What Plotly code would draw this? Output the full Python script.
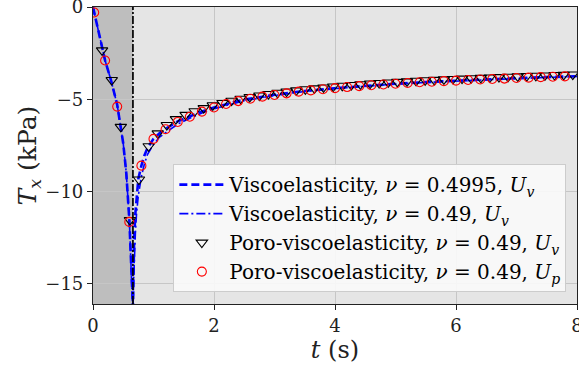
import plotly.graph_objects as go

# ---- data ----
t_line = [0, 0.1, 0.2, 0.3, 0.4, 0.5, 0.55, 0.6, 0.63, 0.65, 0.66, 0.67, 0.68, 0.7, 0.72, 0.75,
          0.8, 0.85, 0.9, 1.0, 1.1, 1.2, 1.4, 1.6, 1.8, 2.0, 2.5, 3.0, 3.5, 4.0, 4.5, 5.0,
          5.5, 6.0, 6.5, 7.0, 7.5, 8.0]
T_visco_4995 = [0, -1.4, -2.9, -4.0, -5.3, -7.4, -9.0, -11.5, -13.5, -15.5, -16.6, -14.0, -12.5,
                -11.2, -10.2, -9.3, -8.6, -8.05, -7.65, -7.15, -6.85, -6.6, -6.2, -5.93, -5.66,
                -5.45, -5.02, -4.76, -4.55, -4.40, -4.27, -4.16, -4.07, -3.99, -3.92, -3.86,
                -3.80, -3.75]
T_visco_49 = [0, -1.4, -2.9, -4.0, -5.3, -7.4, -9.0, -11.5, -13.6, -15.7, -16.8, -15.0, -13.5,
              -12.3, -11.2, -10.2, -9.2, -8.5, -8.0, -7.45, -7.05, -6.8, -6.35, -6.03, -5.75,
              -5.52, -5.08, -4.80, -4.58, -4.42, -4.29, -4.18, -4.09, -4.01, -3.94, -3.88,
              -3.82, -3.77]

t_poro_uv = [0.15, 0.31, 0.46, 0.61, 0.76, 0.92, 1.07, 1.22, 1.37, 1.53, 1.68, 1.83, 1.98,
             2.14, 2.29, 2.44, 2.59, 2.75, 2.90, 3.05, 3.20, 3.36, 3.51, 3.66, 3.81, 3.97,
             4.12, 4.27, 4.42, 4.58, 4.73, 4.88, 5.03, 5.19, 5.34, 5.49, 5.64, 5.80, 5.95,
             6.10, 6.25, 6.41, 6.56, 6.71, 6.86, 7.02, 7.17, 7.32, 7.47, 7.63, 7.78, 7.93]
T_poro_uv = [-2.35, -3.96, -6.5, -11.55, -9.35, -7.55, -6.85, -6.40, -6.08, -5.85, -5.65,
             -5.48, -5.33, -5.20, -5.08, -4.97, -4.88, -4.80, -4.72, -4.65, -4.58, -4.52,
             -4.46, -4.41, -4.36, -4.31, -4.27, -4.23, -4.19, -4.15, -4.12, -4.09, -4.06,
             -4.03, -4.00, -3.97, -3.95, -3.92, -3.90, -3.88, -3.86, -3.84, -3.82, -3.80,
             -3.78, -3.76, -3.74, -3.73, -3.71, -3.69, -3.68, -3.66]

t_poro_up = [0.02, 0.2, 0.4, 0.6, 0.8, 1.0, 1.2, 1.4, 1.6, 1.8, 2.0, 2.2, 2.4, 2.6, 2.8, 3.0,
             3.2, 3.4, 3.6, 3.8, 4.0, 4.2, 4.4, 4.6, 4.8, 5.0, 5.2, 5.4, 5.6, 5.8, 6.0, 6.2,
             6.4, 6.6, 6.8, 7.0, 7.2, 7.4, 7.6, 7.8]
T_poro_up = [-0.3, -2.9, -5.4, -11.65, -8.6, -7.15, -6.63, -6.23, -5.95, -5.67, -5.45, -5.26,
             -5.10, -4.97, -4.86, -4.77, -4.68, -4.59, -4.52, -4.46, -4.40, -4.34, -4.29,
             -4.24, -4.20, -4.16, -4.12, -4.08, -4.05, -4.02, -3.99, -3.96, -3.93, -3.90,
             -3.88, -3.85, -3.83, -3.80, -3.78, -3.76]

t_load_end = 0.66
x_ticks = [0, 2, 4, 6, 8]
y_ticks = [0, -5, -10, -15]

FONT = "DejaVu Serif"

fig = go.Figure()
fig.add_trace(go.Scatter(
    x=t_line, y=T_visco_4995, mode="lines",
    line=dict(color="#0000ff", width=2.6, dash="8px,4px"),
    name="Viscoelasticity, <i>ν</i> = 0.4995, <i>U<sub>v</sub></i>"))
fig.add_trace(go.Scatter(
    x=t_line, y=T_visco_49, mode="lines",
    line=dict(color="#0000ff", width=1.6, dash="9px,3px,2px,3px"),
    name="Viscoelasticity, <i>ν</i> = 0.49, <i>U<sub>v</sub></i>"))
fig.add_trace(go.Scatter(
    x=t_poro_uv, y=T_poro_uv, mode="markers",
    marker=dict(symbol="triangle-down-open", size=10, color="black", line=dict(width=1.1)),
    name="Poro-viscoelasticity, <i>ν</i> = 0.49, <i>U<sub>v</sub></i>"))
fig.add_trace(go.Scatter(
    x=t_poro_up, y=T_poro_up, mode="markers",
    marker=dict(symbol="circle-open", size=9, color="red", line=dict(width=1.1)),
    name="Poro-viscoelasticity, <i>ν</i> = 0.49, <i>U<sub>p</sub></i>"))

fig.add_shape(type="rect", xref="x", yref="paper", x0=0, x1=t_load_end, y0=0, y1=1,
              fillcolor="#bebebe", line_width=0, layer="below")
fig.add_shape(type="line", xref="x", yref="paper", x0=t_load_end, x1=t_load_end, y0=0, y1=1,
              line=dict(color="black", width=1.7, dash="8px,2px,2px,2px"), layer="above")

fig.update_layout(
    width=579, height=374,
    margin=dict(l=93, r=2, t=7, b=70),
    paper_bgcolor="white", plot_bgcolor="#e5e5e5",
    font=dict(family=FONT, size=18, color="#222"),
    showlegend=True,
    legend=dict(x=0.978, y=0.04, xanchor="right", yanchor="bottom",
                bgcolor="rgba(250,250,250,0.9)", bordercolor="#cccccc", borderwidth=1,
                font=dict(family=FONT, size=20, color="black"),
                tracegroupgap=0, itemwidth=45),
)
fig.update_xaxes(range=[0, 8], tickvals=x_ticks, ticks="outside", ticklen=5,
                 tickcolor="#222", showline=True, linecolor="#222", linewidth=1.2, mirror=True,
                 showgrid=True, gridcolor="#c6c6c6", gridwidth=1, zeroline=False,
                 ticklabeloverflow="allow", automargin=False,
                 title=dict(text="<i>t</i> (s)", font=dict(size=24), standoff=6))
fig.update_yaxes(range=[-16.1, 0], tickvals=y_ticks, ticks="outside", ticklen=5,
                 tickcolor="#222", showline=True, linecolor="#222", linewidth=1.2, mirror=True,
                 showgrid=True, gridcolor="#c6c6c6", gridwidth=1, zeroline=False,
                 ticklabeloverflow="allow", automargin=False,
                 title=dict(text="<i>T<sub>x</sub></i> (kPa)", font=dict(size=25), standoff=0))

fig.write_html("out.html")
